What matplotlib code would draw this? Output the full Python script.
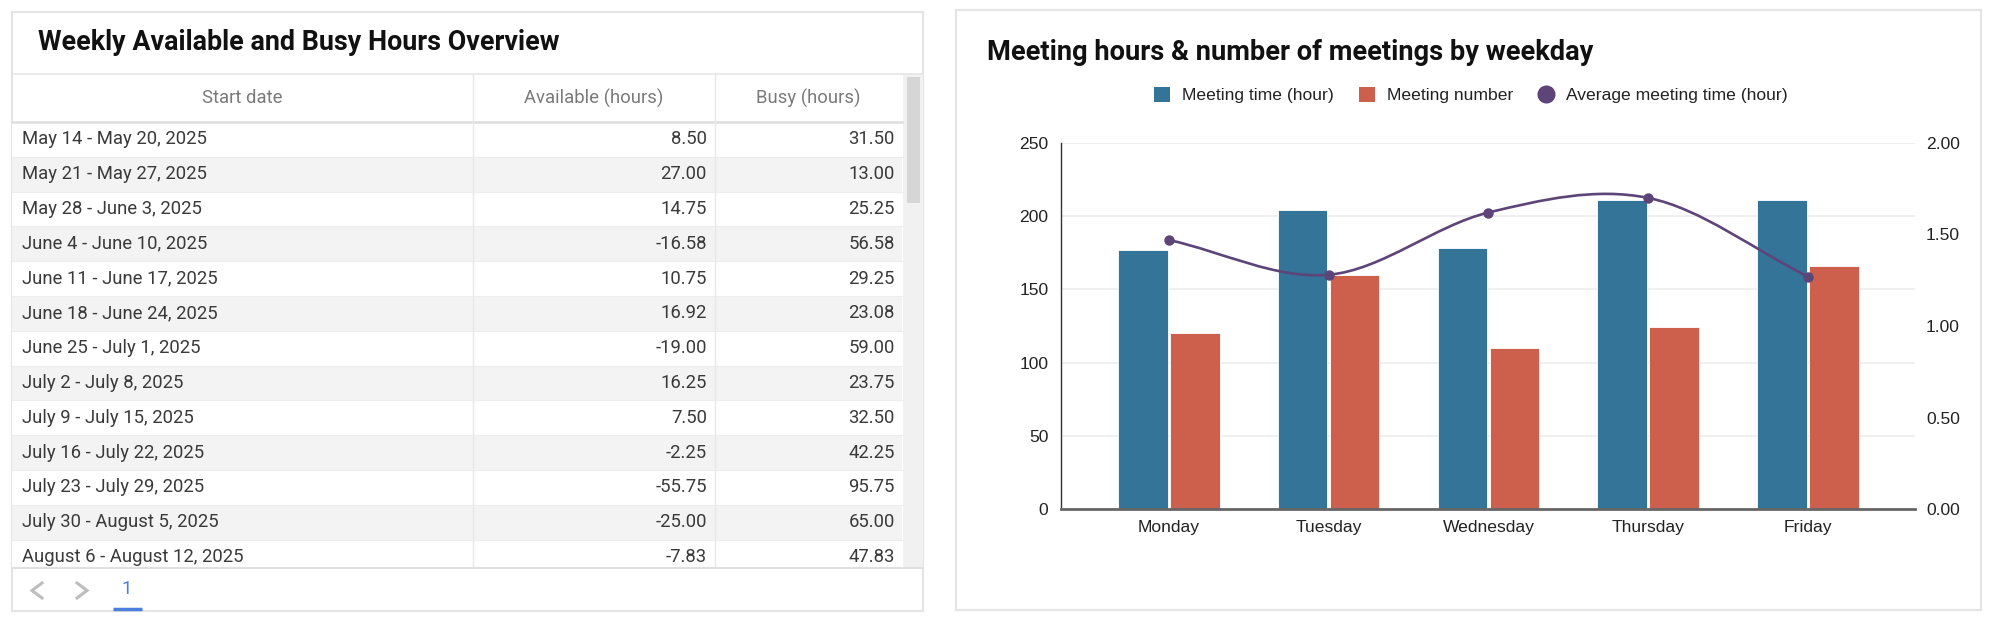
import numpy as np
import matplotlib.pyplot as plt
from matplotlib.patches import Rectangle, Patch, PathPatch
from matplotlib.lines import Line2D
from matplotlib.path import Path

# ---- table data ----
table_header = ["Start date", "Available (hours)", "Busy (hours)"]
week_ranges = [
    "May 14 - May 20, 2025", "May 21 - May 27, 2025", "May 28 - June 3, 2025",
    "June 4 - June 10, 2025", "June 11 - June 17, 2025", "June 18 - June 24, 2025",
    "June 25 - July 1, 2025", "July 2 - July 8, 2025", "July 9 - July 15, 2025",
    "July 16 - July 22, 2025", "July 23 - July 29, 2025", "July 30 - August 5, 2025",
    "August 6 - August 12, 2025",
]
available_hours = [8.50, 27.00, 14.75, -16.58, 10.75, 16.92, -19.00, 16.25, 7.50,
                   -2.25, -55.75, -25.00, -7.83]
busy_hours = [31.50, 13.00, 25.25, 56.58, 29.25, 23.08, 59.00, 23.75, 32.50,
              42.25, 95.75, 65.00, 47.83]

# ---- chart data ----
weekdays = ["Monday", "Tuesday", "Wednesday", "Thursday", "Friday"]
meeting_hours = [177, 204, 178, 211, 211]
meeting_counts = [120, 160, 110, 124, 166]
avg_meeting_hours = [1.47, 1.28, 1.62, 1.70, 1.27]

BLUE = "#347499"
RED = "#cd604d"
PURPLE = "#5d4479"

W, H = 1999, 628
fig = plt.figure(figsize=(W / 100, H / 100), dpi=100)

# background canvas in pixel coordinates
bg = fig.add_axes([0, 0, 1, 1])
bg.set_xlim(0, W)
bg.set_ylim(H, 0)
bg.axis("off")

ROBOTO = ["Roboto", "DejaVu Sans"]
TXT = 13.3

# panels
bg.add_patch(Rectangle((12, 12), 911, 599, fc="white", ec="#e4e4e4", lw=1.5))
bg.add_patch(Rectangle((956, 10), 1025, 600, fc="white", ec="#e4e4e4", lw=1.5))

# ---- left panel: table ----
bg.text(38, 42, "Weekly Available and Busy Hours Overview", fontsize=19.4,
        fontweight="bold", family=ROBOTO, color="#111111", va="center", ha="left")

col_edges = [12, 473, 715, 902]
header_top, header_bot = 74, 122
row_h = 34.8
table_bot = 567

bg.plot([12, 923], [header_top, header_top], color="#e6e6e6", lw=1.2)
for i, name in enumerate(table_header):
    cx = (col_edges[i] + col_edges[i + 1]) / 2
    bg.text(cx, (header_top + header_bot) / 2, name, fontsize=TXT, family=ROBOTO,
            color="#7a7a7a", ha="center", va="center")

for r, (label, av, bu) in enumerate(zip(week_ranges, available_hours, busy_hours)):
    y0 = header_bot + r * row_h
    y1 = min(y0 + row_h, table_bot)
    fc = "white" if r % 2 == 0 else "#f3f3f3"
    bg.add_patch(Rectangle((12, y0), col_edges[-1] - 12, y1 - y0, fc=fc, ec="none"))
    bg.plot([12, col_edges[-1]], [y0, y0], color="#ededed", lw=0.8)
    yc = y0 + row_h / 2
    bg.text(22, yc, label, fontsize=TXT, family=ROBOTO, color="#3a3a3a",
            ha="left", va="center")
    bg.text(col_edges[2] - 8, yc, f"{av:.2f}", fontsize=TXT, family=ROBOTO,
            color="#3a3a3a", ha="right", va="center")
    bg.text(col_edges[3] - 7, yc, f"{bu:.2f}", fontsize=TXT, family=ROBOTO,
            color="#3a3a3a", ha="right", va="center")

bg.plot([12, col_edges[-1]], [header_bot, header_bot], color="#dedede", lw=1.8)
for x in col_edges[1:3]:
    bg.plot([x, x], [header_top, table_bot], color="#e8e8e8", lw=1)
bg.plot([12, 923], [table_bot + 1, table_bot + 1], color="#e0e0e0", lw=1.5)

# scrollbar
bg.add_patch(Rectangle((903, header_top), 20, table_bot - header_top, fc="#f1f1f1", ec="none"))
bg.add_patch(Rectangle((907, 77), 13, 126, fc="#d6d6d6", ec="none"))

# pagination (chevrons)
bg.plot([42, 32, 42], [583, 590.5, 598], color="#bdbdbd", lw=2.2, solid_joinstyle="miter")
bg.plot([77, 87, 77], [583, 590.5, 598], color="#bdbdbd", lw=2.2, solid_joinstyle="miter")
bg.text(127, 589, "1", fontsize=TXT, family=ROBOTO, color="#4a7fe0", ha="center", va="center")
bg.plot([113, 142], [609, 609], color="#4a7fe0", lw=2.5, solid_capstyle="butt")

# ---- right panel: chart ----
bg.text(987, 52, "Meeting hours & number of meetings by weekday", fontsize=19.6,
        fontweight="bold", family=ROBOTO, color="#111111", va="center", ha="left")

ax = fig.add_axes([1061 / W, (H - 509) / H, 854 / W, 366 / H])
ax.patch.set_alpha(0)
ax2 = ax.twinx()

x = np.arange(len(weekdays))
bw = 0.31
ax.bar(x - 0.163, meeting_hours, bw, color=BLUE, edgecolor="white", lw=0.6, zorder=2)
ax.bar(x + 0.163, meeting_counts, bw, color=RED, edgecolor="white", lw=0.6, zorder=2)

ax.set_xlim(-0.675, 4.67)
ax.set_ylim(0, 250)
ax.set_yticks(range(0, 251, 50))
ax.set_xticks(x)
ax.set_xticklabels(weekdays)
ax.yaxis.grid(True, color="#eeeeee", lw=1.2)
ax.set_axisbelow(True)
for s in ["top", "right"]:
    ax.spines[s].set_visible(False)
ax.spines["left"].set_color("#333333")
ax.spines["left"].set_linewidth(1)
ax.spines["bottom"].set_color("#666666")
ax.spines["bottom"].set_linewidth(2)
ax.spines["bottom"].set_zorder(3)
ax.tick_params(axis="both", length=0, labelsize=12.6, colors="#222222")
ax.tick_params(axis="y", pad=9)
ax.tick_params(axis="x", pad=8)


def smooth_path(xs, ys):
    pts = np.column_stack([xs, ys]).astype(float)
    tang = np.zeros_like(pts)
    tang[1:-1] = (pts[2:] - pts[:-2]) / 2
    tang[0] = pts[1] - pts[0]
    tang[-1] = pts[-1] - pts[-2]
    verts = [pts[0]]
    codes = [Path.MOVETO]
    for i in range(len(pts) - 1):
        verts += [pts[i] + tang[i] / 3, pts[i + 1] - tang[i + 1] / 3, pts[i + 1]]
        codes += [Path.CURVE4] * 3
    return Path(verts, codes)


ax2.add_patch(PathPatch(smooth_path(x, avg_meeting_hours), fc="none", ec=PURPLE, lw=1.9, zorder=4))
ax2.plot(x, avg_meeting_hours, "o", color=PURPLE, ms=6.5, zorder=5)
ax2.set_ylim(0, 2)
ax2.set_yticks(np.arange(0, 2.01, 0.5))
ax2.set_yticklabels([f"{v:.2f}" for v in np.arange(0, 2.01, 0.5)])
for s in ax2.spines.values():
    s.set_visible(False)
ax2.tick_params(axis="y", length=0, labelsize=12.6, colors="#222222", pad=8)

for t in ax.get_xticklabels() + ax.get_yticklabels() + ax2.get_yticklabels():
    t.set_family(["Liberation Sans", "DejaVu Sans"])

handles = [
    Patch(fc=BLUE, ec="none"),
    Patch(fc=RED, ec="none"),
    Line2D([], [], ls="none", marker="o", ms=12, color=PURPLE),
]
labels = ["Meeting time (hour)", "Meeting number", "Average meeting time (hour)"]
fig.legend(handles, labels, loc="center", bbox_to_anchor=(1471 / W, 1 - 95 / H), ncol=3,
           frameon=False, prop={"family": ["Liberation Sans", "DejaVu Sans"], "size": 12.6},
           handlelength=0.9, handleheight=1.0, handletextpad=0.7, columnspacing=1.4,
           labelcolor="#222222")

fig.savefig("out.png", dpi=100)
